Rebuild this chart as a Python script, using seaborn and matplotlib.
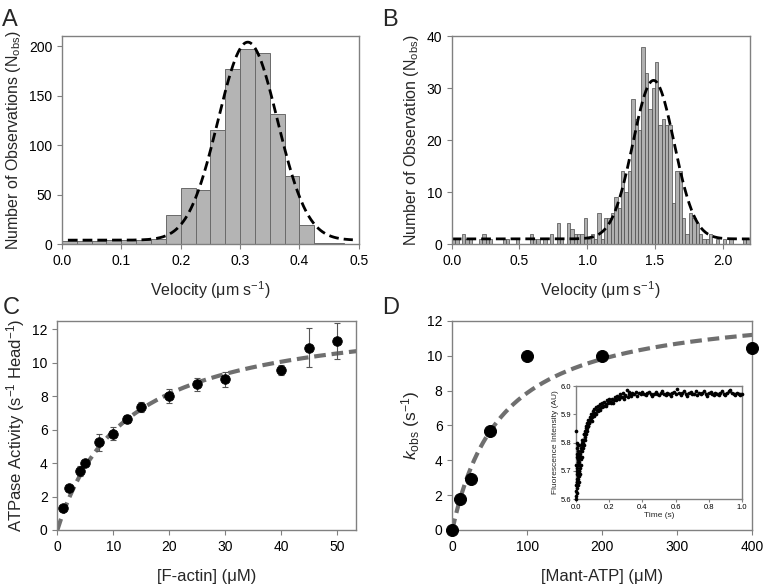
import numpy as np
import pandas as pd
import matplotlib
matplotlib.use("Agg")
import matplotlib.pyplot as plt
from matplotlib.ticker import FormatStrFormatter, MultipleLocator
import seaborn as sns

# ---- panel A: velocity histogram (bin width 0.025) ----
a_bin_start = 0.0
a_bin_width = 0.025
a_counts = [3, 3, 3, 4, 4, 4, 5, 29, 57, 55, 115, 177, 197, 193, 131, 69, 19, 1, 1]
a_fit = dict(amp=200, mu=0.313, sigma=0.05, base=4)

# ---- panel B: velocity histogram (bin width 0.025) ----
b_bin_width = 0.025
b_counts = [1, 1, 0, 2, 1, 1, 0, 0, 1, 2, 1, 1, 0, 0, 0, 1, 1, 0, 0, 1,
            0, 0, 0, 2, 1, 1, 0, 1, 0, 2, 0, 4, 1, 0, 4, 3, 2, 2, 2, 5,
            1, 2, 1, 6, 1, 5, 5, 6, 9, 7, 14, 10, 14, 28, 24, 22, 38, 33, 26, 30,
            35, 23, 24, 23, 23, 8, 14, 14, 5, 2, 6, 5, 4, 2, 1, 1, 2, 0, 1, 0,
            1, 0, 1, 0, 0, 0, 1, 1]
b_fit = dict(amp=30.5, mu=1.49, sigma=0.152, base=1)

# ---- panel C: actin-activated ATPase ----
c_actin = [1, 2, 4, 5, 7.5, 10, 12.5, 15, 20, 25, 30, 40, 45, 50]
c_rate = [1.3, 2.5, 3.55, 4.0, 5.25, 5.75, 6.65, 7.35, 8.0, 8.7, 9.0, 9.55, 10.9, 11.3]
c_err = [0.15, 0.1, 0.3, 0.1, 0.5, 0.4, 0.25, 0.3, 0.4, 0.4, 0.45, 0.3, 1.15, 1.05]
c_vmax, c_km = 13.15, 12.3

# ---- panel D: mant-ATP binding ----
d_atp = [0, 10, 25, 50, 100, 200, 400]
d_kobs = [0, 1.8, 2.95, 5.7, 10.0, 10.0, 10.45]
d_vmax, d_km = 13.03, 65.5

# ---- inset: fluorescence transient ----
ins_time = [0.000, 0.001, 0.002, 0.003, 0.004, 0.005, 0.006, 0.007, 0.008, 0.009,
            0.010, 0.011, 0.012, 0.013, 0.014, 0.015, 0.016, 0.017, 0.018, 0.019,
            0.020, 0.022, 0.024, 0.026, 0.028, 0.030, 0.032, 0.034, 0.036, 0.038,
            0.040, 0.043, 0.046, 0.049, 0.052, 0.055, 0.058, 0.061, 0.064, 0.067,
            0.070, 0.074, 0.078, 0.082, 0.086, 0.090, 0.095, 0.100, 0.105, 0.110,
            0.115, 0.120, 0.126, 0.132, 0.138, 0.144, 0.150, 0.157, 0.164, 0.171,
            0.178, 0.185, 0.192, 0.200, 0.208, 0.216, 0.224, 0.232, 0.240, 0.248,
            0.256, 0.264, 0.272, 0.280, 0.288, 0.296, 0.304, 0.312, 0.320, 0.330,
            0.340, 0.350, 0.360, 0.370, 0.380, 0.390, 0.400,
            0.41, 0.42, 0.43, 0.44, 0.45, 0.46, 0.47, 0.48, 0.49, 0.50,
            0.51, 0.52, 0.53, 0.54, 0.55, 0.56, 0.57, 0.58, 0.59, 0.60,
            0.61, 0.62, 0.63, 0.64, 0.65, 0.66, 0.67, 0.68, 0.69, 0.70,
            0.71, 0.72, 0.73, 0.74, 0.75, 0.76, 0.77, 0.78, 0.79, 0.80,
            0.81, 0.82, 0.83, 0.84, 0.85, 0.86, 0.87, 0.88, 0.89, 0.90,
            0.91, 0.92, 0.93, 0.94, 0.95, 0.96, 0.97, 0.98, 0.99, 1.00,
            # second, overlapping shot over the fast phase
            0.0005, 0.0015, 0.0025, 0.0035, 0.0045, 0.0055, 0.0065, 0.0075, 0.0085, 0.0095,
            0.0105, 0.0125, 0.0145, 0.0165, 0.0185, 0.021, 0.025, 0.029, 0.033, 0.037,
            0.042, 0.047, 0.053, 0.059, 0.065, 0.072, 0.080, 0.088, 0.097, 0.107,
            0.118, 0.130, 0.142, 0.155, 0.168, 0.182, 0.196, 0.211, 0.226, 0.243,
            0.260, 0.278, 0.297, 0.317, 0.338]
ins_signal = [5.600, 5.840, 5.630, 5.800, 5.660, 5.780, 5.620, 5.760, 5.700, 5.790,
              5.650, 5.740, 5.680, 5.770, 5.720, 5.660, 5.750, 5.700, 5.790, 5.680,
              5.730, 5.710, 5.760, 5.690, 5.740, 5.780, 5.720, 5.770, 5.750, 5.800,
              5.780, 5.810, 5.790, 5.830, 5.820, 5.840, 5.830, 5.860, 5.850, 5.870,
              5.860, 5.880, 5.870, 5.890, 5.880, 5.900, 5.890, 5.910, 5.900, 5.920,
              5.905, 5.925, 5.915, 5.930, 5.920, 5.935, 5.925, 5.940, 5.930, 5.945,
              5.935, 5.950, 5.940, 5.955, 5.945, 5.955, 5.940, 5.960, 5.950, 5.965,
              5.955, 5.970, 5.960, 5.975, 5.955, 5.965, 5.985, 5.960, 5.980, 5.965,
              5.975, 5.970, 5.980, 5.965, 5.975, 5.970, 5.980,
              5.972, 5.968, 5.975, 5.978, 5.970, 5.965, 5.973, 5.980, 5.971, 5.967,
              5.975, 5.984, 5.972, 5.969, 5.977, 5.973, 5.966, 5.974, 5.979, 5.970,
              5.991, 5.976, 5.968, 5.974, 5.981, 5.972, 5.965, 5.975, 5.978, 5.970,
              5.973, 5.982, 5.969, 5.975, 5.971, 5.977, 5.984, 5.970, 5.966, 5.974,
              5.979, 5.972, 5.968, 5.976, 5.973, 5.969, 5.975, 5.981, 5.972, 5.967,
              5.974, 5.983, 5.987, 5.976, 5.971, 5.968, 5.975, 5.972, 5.969, 5.971,
              5.650, 5.720, 5.610, 5.690, 5.640, 5.750, 5.670, 5.710, 5.660, 5.730,
              5.690, 5.670, 5.740, 5.700, 5.760, 5.720, 5.750, 5.770, 5.790, 5.810,
              5.800, 5.830, 5.810, 5.850, 5.840, 5.860, 5.870, 5.880, 5.875, 5.895,
              5.900, 5.910, 5.915, 5.925, 5.930, 5.930, 5.945, 5.940, 5.950, 5.955,
              5.960, 5.962, 5.968, 5.970, 5.972]
ins_fit = dict(top=5.975, drop=0.27, k=11.0)


def gauss(x, amp, mu, sigma, base):
    return base + amp * np.exp(-(x - mu) ** 2 / (2 * sigma ** 2))


def hyperbola(x, vmax, km):
    return vmax * x / (km + x)


def hist_frame(counts, start, width):
    """Bin centres + counts as a table for a weighted seaborn histogram."""
    centers = start + width * (np.arange(len(counts)) + 0.5)
    return pd.DataFrame({"v": centers, "n": counts})


sns.set_style("ticks")
plt.rcParams["font.family"] = ["Liberation Sans", "DejaVu Sans"]
plt.rcParams["mathtext.fontset"] = "custom"
plt.rcParams["mathtext.rm"] = "Liberation Sans"
plt.rcParams["mathtext.it"] = "Liberation Sans:italic"
plt.rcParams["axes.edgecolor"] = "#808080"
plt.rcParams["xtick.color"] = "#808080"
plt.rcParams["ytick.color"] = "#808080"
plt.rcParams["xtick.labelcolor"] = "black"
plt.rcParams["ytick.labelcolor"] = "black"

TICK_FS = 10
LABEL_FS = 11.5
GRAY_DASH = "#6f6f6f"

fig = plt.figure(figsize=(7.65, 5.84), dpi=100)
ax_a = fig.add_axes([0.081, 0.582, 0.388, 0.356])
ax_b = fig.add_axes([0.5905, 0.582, 0.3895, 0.356])
ax_c = fig.add_axes([0.075, 0.0925, 0.391, 0.358])
ax_d = fig.add_axes([0.5913, 0.0925, 0.392, 0.358])
ax_in = fig.add_axes([0.753, 0.1455, 0.217, 0.1935])


def style(ax):
    for sp in ax.spines.values():
        sp.set_visible(True)
        sp.set_color("#808080")
        sp.set_linewidth(1.0)
    ax.tick_params(direction="out", length=3.5, width=0.8, labelsize=TICK_FS)


# A
df_a = hist_frame(a_counts, a_bin_start, a_bin_width)
sns.histplot(data=df_a, x="v", weights="n", binwidth=a_bin_width,
             binrange=(a_bin_start, a_bin_start + a_bin_width * len(a_counts)),
             ax=ax_a, color="#b4b4b4", edgecolor="#6a6a6a", linewidth=0.7, alpha=1)
xa = np.linspace(0.01, 0.49, 300)
ax_a.plot(xa, gauss(xa, **a_fit), color="black", lw=2.0, dashes=(3.5, 1.8))
ax_a.set_xlim(0, 0.5)
ax_a.set_ylim(0, 210)
ax_a.xaxis.set_major_locator(MultipleLocator(0.1))
ax_a.xaxis.set_major_formatter(FormatStrFormatter("%.1f"))
ax_a.yaxis.set_major_locator(MultipleLocator(50))
ax_a.set_xlabel("Velocity (μm s$^{-1}$)", fontsize=LABEL_FS, labelpad=8)
ax_a.set_ylabel("Number of Observations (N$_\\mathregular{obs}$)", fontsize=LABEL_FS)
style(ax_a)

# B
df_b = hist_frame(b_counts, 0.0, b_bin_width)
sns.histplot(data=df_b, x="v", weights="n", binwidth=b_bin_width,
             binrange=(0.0, b_bin_width * len(b_counts)),
             ax=ax_b, color="#b0b0b0", edgecolor="#4a4a4a", linewidth=0.5, alpha=1)
xb = np.linspace(0, 2.2, 400)
ax_b.plot(xb, gauss(xb, **b_fit), color="black", lw=2.0, dashes=(3.5, 1.8))
ax_b.set_xlim(0, 2.2)
ax_b.set_ylim(0, 40)
ax_b.xaxis.set_major_locator(MultipleLocator(0.5))
ax_b.xaxis.set_major_formatter(FormatStrFormatter("%.1f"))
ax_b.yaxis.set_major_locator(MultipleLocator(10))
ax_b.set_xlabel("Velocity (μm s$^{-1}$)", fontsize=LABEL_FS, labelpad=8)
ax_b.set_ylabel("Number of Observation (N$_\\mathregular{obs}$)", fontsize=LABEL_FS)
style(ax_b)

# C
xc = np.linspace(0, 55, 300)
ax_c.plot(xc, hyperbola(xc, c_vmax, c_km), color=GRAY_DASH, lw=3, dashes=(2.8, 1.4))
ax_c.errorbar(c_actin, c_rate, yerr=c_err, fmt="none", ecolor="#555555",
              elinewidth=0.8, capsize=2.5, capthick=0.8)
sns.scatterplot(x=c_actin, y=c_rate, ax=ax_c, color="black", s=48,
                edgecolor="black", zorder=5)
ax_c.set_xlim(0, 53.5)
ax_c.set_ylim(0, 12.5)
ax_c.xaxis.set_major_locator(MultipleLocator(10))
ax_c.yaxis.set_major_locator(MultipleLocator(2))
ax_c.set_xlabel("[F-actin] (μM)", fontsize=LABEL_FS + 0.5, labelpad=11)
ax_c.set_ylabel("ATPase Activity (s$^{-1}$ Head$^{-1}$)", fontsize=LABEL_FS + 0.5)
style(ax_c)

# D
xd = np.linspace(0, 400, 400)
ax_d.plot(xd, hyperbola(xd, d_vmax, d_km), color=GRAY_DASH, lw=3, dashes=(2.8, 1.4))
sns.scatterplot(x=d_atp, y=d_kobs, ax=ax_d, color="black", s=75,
                edgecolor="black", zorder=5, clip_on=False)
ax_d.set_xlim(0, 400)
ax_d.set_ylim(0, 12)
ax_d.xaxis.set_major_locator(MultipleLocator(100))
ax_d.yaxis.set_major_locator(MultipleLocator(2))
ax_d.set_xlabel("[Mant-ATP] (μM)", fontsize=LABEL_FS + 0.5, labelpad=11)
ax_d.set_ylabel("$k_\\mathregular{obs}$ (s$^{-1}$)", fontsize=LABEL_FS + 1)
style(ax_d)

# inset
ti = np.linspace(0, 1, 300)
ax_in.plot(ti, ins_fit["top"] - ins_fit["drop"] * np.exp(-ins_fit["k"] * ti),
           color="#bbbbbb", lw=1.2, zorder=1)
sns.scatterplot(x=ins_time, y=ins_signal, ax=ax_in, color="black", s=7,
                linewidth=0, zorder=3, clip_on=False)
ax_in.set_xlim(0, 1)
ax_in.set_ylim(5.6, 6.0)
ax_in.xaxis.set_major_locator(MultipleLocator(0.2))
ax_in.xaxis.set_major_formatter(FormatStrFormatter("%.1f"))
ax_in.yaxis.set_major_locator(MultipleLocator(0.1))
ax_in.yaxis.set_major_formatter(FormatStrFormatter("%.1f"))
ax_in.set_xlabel("Time (s)", fontsize=6, labelpad=1)
ax_in.set_ylabel("Fluorescence Intensity (AU)", fontsize=6, labelpad=1)
style(ax_in)
ax_in.tick_params(labelsize=5.5, length=2, pad=1.5)

# panel letters
for letter, (x, y) in zip("ABCD", [(0.003, 0.965), (0.500, 0.965),
                                   (0.003, 0.472), (0.500, 0.472)]):
    fig.text(x, y, letter, fontsize=17, ha="left", va="center")

fig.savefig("out.png", dpi=100)
